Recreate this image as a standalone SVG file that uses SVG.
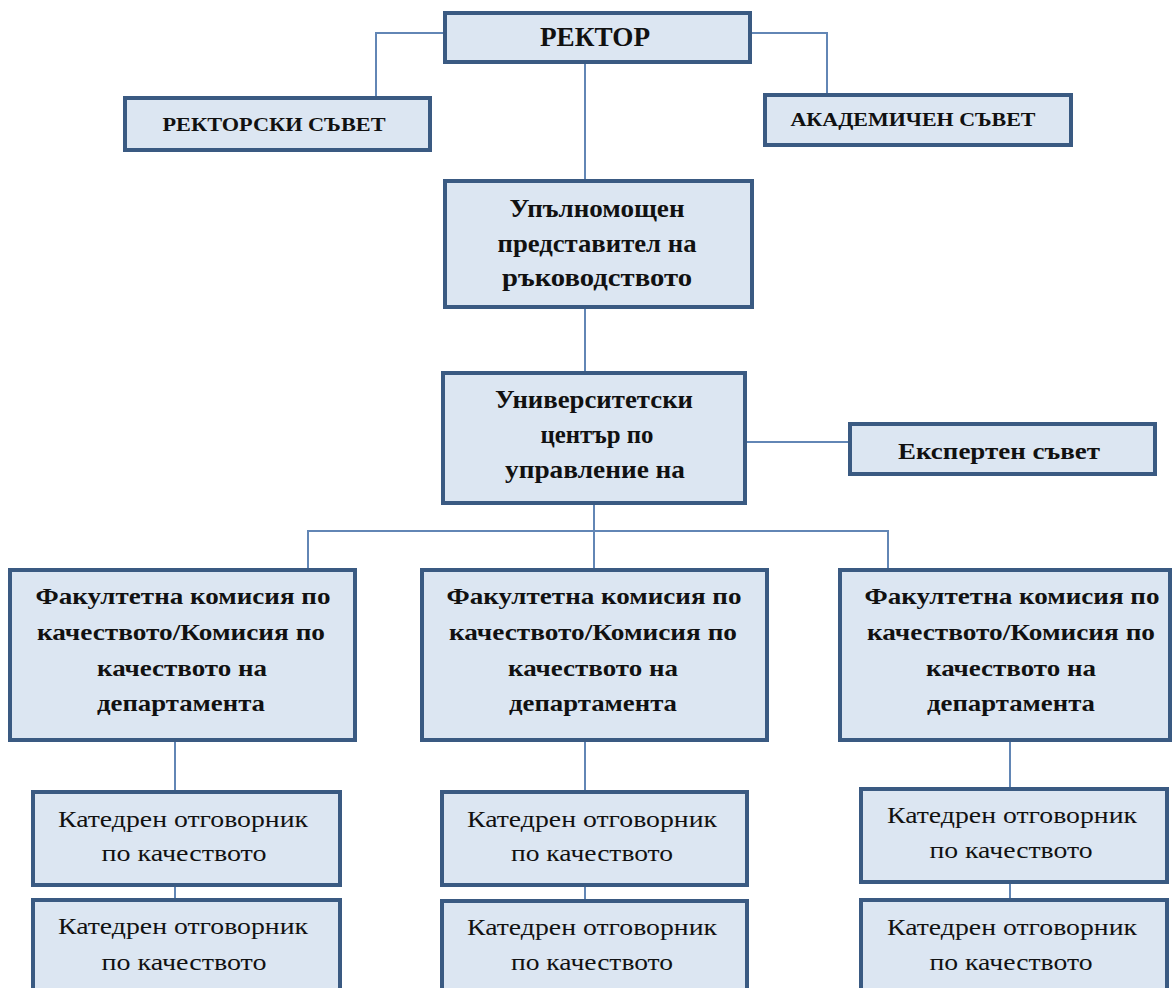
<svg xmlns="http://www.w3.org/2000/svg" width="1173" height="988" viewBox="0 0 1173 988">
<style>
.box{fill:#dce6f2;stroke:#3a5a82;stroke-width:4}
.ln{fill:none;stroke:#6286b5;stroke-width:2}
text{font-family:'Liberation Serif','Times New Roman','DejaVu Serif',serif;fill:#111;text-anchor:middle}
.b{font-weight:bold}
.r{font-size:24px}
.h{font-size:28px}
.u{font-size:26px}
.f{font-size:24px}
.s{font-size:19px}
</style>
<rect width="1173" height="988" fill="#fff"/>
<g id="connectors">
<path class="ln" d="M445,33 H376 V98"/>
<path class="ln" d="M750,33 H827 V95"/>
<path class="ln" d="M585,62 V181"/>
<path class="ln" d="M585,307 V373"/>
<path class="ln" d="M745,442 H850"/>
<path class="ln" d="M594,503 V531"/>
<path class="ln" d="M308,570 V531 H888 V570"/>
<path class="ln" d="M594,531 V570"/>
<path class="ln" d="M175,740 V792"/>
<path class="ln" d="M175,885 V900"/>
<path class="ln" d="M585,740 V792"/>
<path class="ln" d="M585,885 V901"/>
<path class="ln" d="M1010,740 V789"/>
<path class="ln" d="M1010,882 V900"/>
</g>
<g id="rektor"><rect class="box" x="445" y="13" width="305" height="49"/><text class="b h" x="595" y="46" textLength="110" lengthAdjust="spacingAndGlyphs">РЕКТОР</text></g>
<g id="rektorski"><rect class="box" x="125" y="98" width="305" height="52"/><text class="b s" x="274" y="131" textLength="223" lengthAdjust="spacingAndGlyphs">РЕКТОРСКИ СЪВЕТ</text></g>
<g id="akademichen"><rect class="box" x="765" y="95" width="306" height="50"/><text class="b s" x="913" y="126" textLength="245" lengthAdjust="spacingAndGlyphs">АКАДЕМИЧЕН СЪВЕТ</text></g>
<g id="upalnomoshten"><rect class="box" x="445" y="181" width="307" height="126"/>
<text class="b u" x="597" y="217" textLength="175" lengthAdjust="spacingAndGlyphs">Упълномощен</text>
<text class="b u" x="597" y="252" textLength="199" lengthAdjust="spacingAndGlyphs">представител на</text>
<text class="b u" x="597" y="286" textLength="190" lengthAdjust="spacingAndGlyphs">ръководството</text></g>
<g id="center"><rect class="box" x="443" y="373" width="302" height="130"/>
<text class="b u" x="594" y="408" textLength="198" lengthAdjust="spacingAndGlyphs">Университетски</text>
<text class="b u" x="597" y="443" textLength="113" lengthAdjust="spacingAndGlyphs">център по</text>
<text class="b u" x="595" y="478" textLength="180" lengthAdjust="spacingAndGlyphs">управление на</text></g>
<g id="expert"><rect class="box" x="850" y="424" width="305" height="50"/><text class="b f" x="999" y="459" textLength="202" lengthAdjust="spacingAndGlyphs">Експертен съвет</text></g>
<g id="fac1"><rect class="box" x="10" y="570" width="345" height="170"/>
<text class="b f" x="183" y="604" textLength="295" lengthAdjust="spacingAndGlyphs">Факултетна комисия по</text>
<text class="b f" x="181" y="640" textLength="288" lengthAdjust="spacingAndGlyphs">качеството/Комисия по</text>
<text class="b f" x="182" y="676" textLength="170" lengthAdjust="spacingAndGlyphs">качеството на</text>
<text class="b f" x="181" y="711" textLength="168" lengthAdjust="spacingAndGlyphs">департамента</text></g>
<g id="fac2"><rect class="box" x="422" y="570" width="345" height="170"/>
<text class="b f" x="594" y="604" textLength="295" lengthAdjust="spacingAndGlyphs">Факултетна комисия по</text>
<text class="b f" x="593" y="640" textLength="288" lengthAdjust="spacingAndGlyphs">качеството/Комисия по</text>
<text class="b f" x="593" y="676" textLength="170" lengthAdjust="spacingAndGlyphs">качеството на</text>
<text class="b f" x="593" y="711" textLength="168" lengthAdjust="spacingAndGlyphs">департамента</text></g>
<g id="fac3"><rect class="box" x="840" y="570" width="330" height="170"/>
<text class="b f" x="1012" y="604" textLength="295" lengthAdjust="spacingAndGlyphs">Факултетна комисия по</text>
<text class="b f" x="1011" y="640" textLength="288" lengthAdjust="spacingAndGlyphs">качеството/Комисия по</text>
<text class="b f" x="1011" y="676" textLength="170" lengthAdjust="spacingAndGlyphs">качеството на</text>
<text class="b f" x="1011" y="711" textLength="168" lengthAdjust="spacingAndGlyphs">департамента</text></g>
<g id="kat1a"><rect class="box" x="33" y="792" width="307" height="93"/>
<text class="r" x="183" y="827" textLength="250" lengthAdjust="spacingAndGlyphs">Катедрен отговорник</text><text class="r" x="184" y="861" textLength="165" lengthAdjust="spacingAndGlyphs">по качеството</text></g>
<g id="kat1b"><rect class="box" x="33" y="900" width="307" height="92"/>
<text class="r" x="183" y="934" textLength="250" lengthAdjust="spacingAndGlyphs">Катедрен отговорник</text><text class="r" x="184" y="970" textLength="165" lengthAdjust="spacingAndGlyphs">по качеството</text></g>
<g id="kat2a"><rect class="box" x="442" y="792" width="305" height="93"/>
<text class="r" x="592" y="827" textLength="250" lengthAdjust="spacingAndGlyphs">Катедрен отговорник</text><text class="r" x="592" y="861" textLength="162" lengthAdjust="spacingAndGlyphs">по качеството</text></g>
<g id="kat2b"><rect class="box" x="442" y="901" width="305" height="92"/>
<text class="r" x="592" y="935" textLength="250" lengthAdjust="spacingAndGlyphs">Катедрен отговорник</text><text class="r" x="592" y="970" textLength="162" lengthAdjust="spacingAndGlyphs">по качеството</text></g>
<g id="kat3a"><rect class="box" x="861" y="789" width="306" height="93"/>
<text class="r" x="1012" y="823" textLength="250" lengthAdjust="spacingAndGlyphs">Катедрен отговорник</text><text class="r" x="1011" y="858" textLength="163" lengthAdjust="spacingAndGlyphs">по качеството</text></g>
<g id="kat3b"><rect class="box" x="861" y="900" width="306" height="92"/>
<text class="r" x="1012" y="935" textLength="250" lengthAdjust="spacingAndGlyphs">Катедрен отговорник</text><text class="r" x="1011" y="970" textLength="163" lengthAdjust="spacingAndGlyphs">по качеството</text></g>
</svg>
